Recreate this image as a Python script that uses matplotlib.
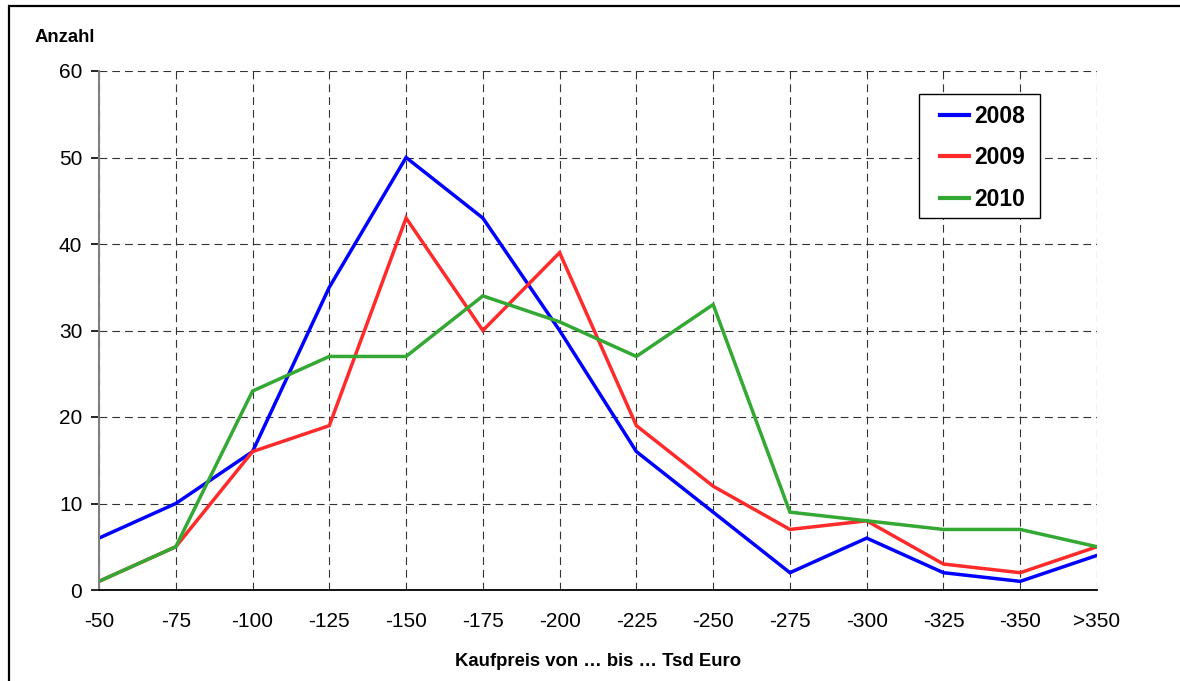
import matplotlib
matplotlib.use("Agg")
import matplotlib.pyplot as plt
from matplotlib.patches import Rectangle

plt.rcParams['font.family'] = ['Liberation Sans', 'DejaVu Sans']

# price classes (Tsd Euro) and number of sales per year
klassen = ['-50', '-75', '-100', '-125', '-150', '-175', '-200', '-225',
           '-250', '-275', '-300', '-325', '-350', '>350']
y2008 = [6, 10, 16, 35, 50, 43, 30, 16, 9, 2, 6, 2, 1, 4]
y2009 = [1, 5, 16, 19, 43, 30, 39, 19, 12, 7, 8, 3, 2, 5]
y2010 = [1, 5, 23, 27, 27, 34, 31, 27, 33, 9, 8, 7, 7, 5]

W, H = 1180, 681
fig = plt.figure(figsize=(W / 100, H / 100), dpi=100)
ax = fig.add_axes([99 / W, 1 - 590 / H, 998 / W, 519 / H])

x = list(range(len(klassen)))
ax.plot(x, y2008, color='#0000FF', lw=2.5, label='2008', solid_joinstyle='miter')
ax.plot(x, y2009, color='#FF2A2A', lw=2.5, label='2009', solid_joinstyle='miter')
ax.plot(x, y2010, color='#33A833', lw=2.5, label='2010', solid_joinstyle='miter')

ax.set_xlim(0, len(klassen) - 1)
ax.set_ylim(0, 60)
ax.set_xticks(x)
ax.set_xticklabels(klassen)
ax.set_yticks(range(0, 61, 10))

# dashed grid
ax.grid(True, color='#333333', linestyle=(0, (7, 4.5)), linewidth=0.8)
ax.set_axisbelow(True)

for s in ['top', 'right']:
    ax.spines[s].set_visible(False)
ax.spines['left'].set_color('#808080')
ax.spines['left'].set_linewidth(1.5)
ax.spines['bottom'].set_color('black')
ax.spines['bottom'].set_linewidth(1.3)

ax.tick_params(axis='x', length=0, pad=16, labelsize=15)
ax.tick_params(axis='y', length=6, width=1.2, color='black', pad=6, labelsize=15)

# legend box (wider side padding than top/bottom), entries placed inside
box = Rectangle((820 / 998, 372 / 519), 121 / 998, 124 / 519, transform=ax.transAxes,
                facecolor='white', edgecolor='black', linewidth=1.0, zorder=4.9)
ax.add_patch(box)
leg = ax.legend(loc='upper left', bbox_to_anchor=(841 / 998, 485 / 519),
                borderaxespad=0, frameon=False,
                prop={'weight': 'bold', 'size': 16.5},
                handlelength=1.25, handletextpad=0.25, labelspacing=0.8,
                borderpad=0)
for h in leg.get_lines():
    h.set_linewidth(3)

fig.text(35 / W, 1 - 37 / H, 'Anzahl', fontsize=13.3, fontweight='bold',
         ha='left', va='center')
fig.text(598 / W, 1 - 661 / H, 'Kaufpreis von \u2026 bis \u2026 Tsd Euro',
         fontsize=13.3, fontweight='bold', ha='center', va='center')

# outer frame
fig.patches.append(Rectangle((9 / W, -0.1), 1.2, 1.1 - 6 / H, transform=fig.transFigure,
                             fill=False, edgecolor='black', linewidth=1.6))

fig.savefig('out.png', dpi=100)
